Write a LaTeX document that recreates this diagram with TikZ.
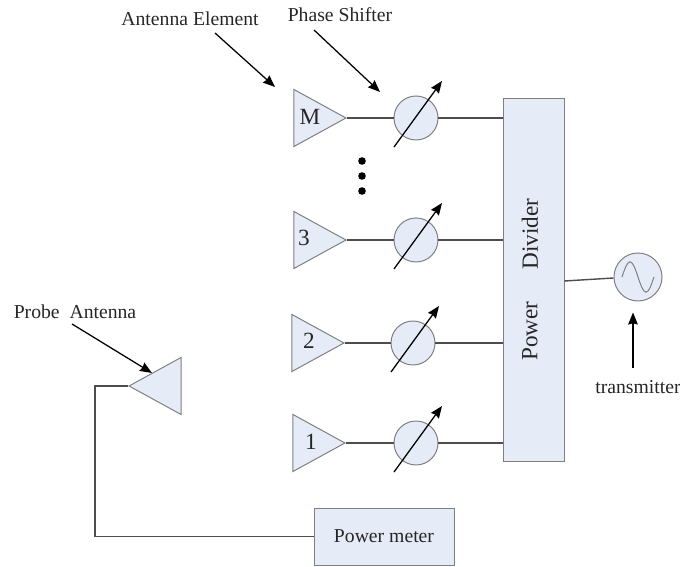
\documentclass[tikz,border=0pt]{standalone}
\usepackage{fontspec}
\setmainfont{Liberation Serif}
\usepackage{tikz}
\usetikzlibrary{shapes,shapes.geometric,arrows.meta}
\definecolor{boxfill}{HTML}{E6ECF7}
\definecolor{boxline}{HTML}{7F7F7F}
\definecolor{wire}{HTML}{4D4D4D}
\tikzstyle{line} = [draw=wire, line width=1pt]
\tikzstyle{arrow} = [line width=0.9pt,-{Stealth[length=3mm,width=2.4mm,inset=0.3mm]},black]
\tikzstyle{label} = [font=\fontsize{14}{16}\selectfont, text=black!85, inner sep=0pt]
\tikzstyle{bigtext} = [font=\fontsize{16.5}{18}\selectfont, text=black!85, inner sep=0pt]
\tikzstyle{antenna} = [isosceles triangle, isosceles triangle apex angle=56, isosceles triangle stretches, minimum width=1.425cm, minimum height=1.3cm, inner sep=0pt, anchor=apex, draw=boxline, fill=boxfill, line width=0.7pt]
\tikzstyle{shifter} = [circle, minimum size=1.1cm, inner sep=0pt, draw=boxline, fill=boxfill, line width=0.7pt]
\tikzstyle{dotty} = [circle, minimum size=0.19cm, inner sep=0pt, fill=black]

\begin{document}
\begin{tikzpicture}
        \useasboundingbox (0,0) rectangle (17,14.175);

        % antennas
        \node (AntM) [antenna, xshift=8.675cm, yshift=11.225cm] {};
        \node (Ant3) [antenna, xshift=8.675cm, yshift=8.175cm] {};
        \node (Ant2) [antenna, xshift=8.625cm, yshift=5.6cm] {};
        \node (Ant1) [antenna, xshift=8.65cm, yshift=3.1cm] {};
        \node (TxtM) [bigtext, xshift=7.75cm, yshift=11.25cm] {M};
        \node (Txt3) [bigtext, xshift=7.6cm, yshift=8.225cm] {3};
        \node (Txt2) [bigtext, xshift=7.725cm, yshift=5.65cm] {2};
        \node (Txt1) [bigtext, xshift=7.775cm, yshift=3.125cm] {1};

        % phase shifters
        \node (PsM) [shifter, xshift=10.4cm, yshift=11.225cm] {};
        \node (Ps3) [shifter, xshift=10.4cm, yshift=8.175cm] {};
        \node (Ps2) [shifter, xshift=10.325cm, yshift=5.6cm] {};
        \node (Ps1) [shifter, xshift=10.4cm, yshift=3.1cm] {};

        \node (Dot1) [dotty, xshift=9.05cm, yshift=10.15cm] {};
        \node (Dot2) [dotty, xshift=9.05cm, yshift=9.775cm] {};
        \node (Dot3) [dotty, xshift=9.05cm, yshift=9.4cm] {};

        \node (Div) [rectangle, xshift=13.3375cm, yshift=7.1875cm, minimum width=1.525cm, minimum height=9.075cm, draw=boxline, fill=boxfill, line width=0.7pt] {};
        \node (Power) [bigtext, rotate=90] at (13.25,5.9) {Power};
        \node (Divider) [bigtext, rotate=90] at (13.25,8.325) {Divider};

        \node (Gen) [circle, minimum size=1.2cm, inner sep=0pt, draw=boxline, fill=boxfill, line width=0.7pt, xshift=15.95cm, yshift=7.25cm] {};
        \node (Tx) [label, xshift=15.95cm, yshift=4.5cm] {transmitter};

        \node (Probe) [antenna, shape border rotate=180, xshift=3.2cm, yshift=4.525cm] {};
        \node (Meter) [rectangle, xshift=9.6cm, yshift=0.7625cm, minimum width=3.5cm, minimum height=1.425cm, draw=boxline, fill=boxfill, line width=0.7pt] {};
        \node (MeterT) [label, xshift=9.6cm, yshift=0.775cm] {Power meter};

        \node (AE) [label, xshift=4.75cm, yshift=13.7cm] {Antenna Element};
        \node (PS) [label, xshift=8.5cm, yshift=13.8cm] {Phase Shifter};
        \node (PA) [label, xshift=1.875cm, yshift=6.375cm] {Probe\ \ Antenna};
        \coordinate (Corner) at (2.375,0.7625);

        % wires
        \path [line] (AntM.apex) -- (PsM);
        \path [line] (Ant3.apex) -- (Ps3);
        \path [line] (Ant2.apex) -- (Ps2);
        \path [line] (Ant1.apex) -- (Ps1);
        \path [line] (PsM) -- (PsM -| Div.west);
        \path [line] (Ps3) -- (Ps3 -| Div.west);
        \path [line] (Ps2) -- (Ps2 -| Div.west);
        \path [line] (Ps1) -- (Ps1 -| Div.west);
        \path [line] ([yshift=-0.025cm]Gen.west) -- ([yshift=-0.1cm]Gen -| Div.east);
        \path [line] (Probe.apex) -| (Corner) -- (Meter.west);

        % tunable arrows
        \draw [arrow] ([xshift=-0.55cm,yshift=-0.725cm]PsM.center) -- ([xshift=0.65cm,yshift=0.925cm]PsM.center);
        \draw [arrow] ([xshift=-0.55cm,yshift=-0.725cm]Ps3.center) -- ([xshift=0.65cm,yshift=0.925cm]Ps3.center);
        \draw [arrow] ([xshift=-0.55cm,yshift=-0.725cm]Ps2.center) -- ([xshift=0.65cm,yshift=0.925cm]Ps2.center);
        \draw [arrow] ([xshift=-0.55cm,yshift=-0.725cm]Ps1.center) -- ([xshift=0.65cm,yshift=0.925cm]Ps1.center);

        % pointers
        \draw [arrow] ([xshift=0.625cm,yshift=-0.35cm]AE.center) -- ([xshift=-1.8cm,yshift=0.775cm]AntM.apex);
        \draw [arrow] ([xshift=-0.65cm,yshift=-0.375cm]PS.center) -- ([xshift=-0.9cm,yshift=0.65cm]PsM.center);
        \draw [arrow] ([xshift=-0.075cm,yshift=-0.3cm]PA.center) -- ([xshift=0.6cm,yshift=0.325cm]Probe.apex);
        \draw [arrow] ([xshift=-0.125cm,yshift=0.475cm]Tx.center) -- ([xshift=-0.125cm,yshift=-0.275cm]Gen.south);

        % sine
        \draw [boxline, line width=0.7pt] ([xshift=-0.4cm]Gen.center) sin ++(0.2,0.38) cos ++(0.2,-0.38) sin ++(0.2,-0.38) cos ++(0.2,0.38);
\end{tikzpicture}
\end{document}
